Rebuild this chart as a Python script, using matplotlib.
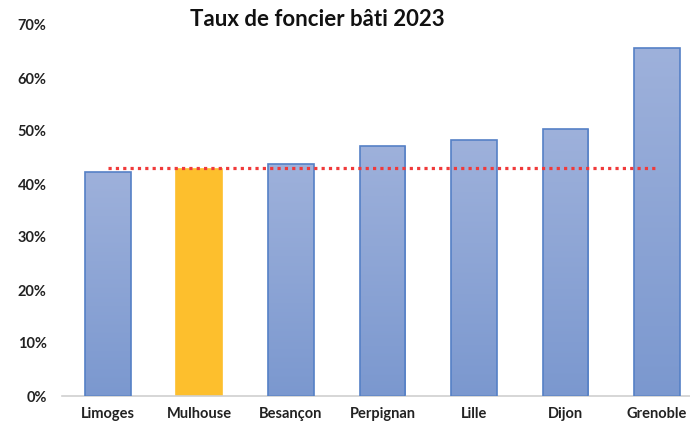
import numpy as np
import matplotlib
matplotlib.use("Agg")
import matplotlib.pyplot as plt
from matplotlib.colors import LinearSegmentedColormap

# data
villes = ["Limoges", "Mulhouse", "Besançon", "Perpignan", "Lille", "Dijon", "Grenoble"]
taux = [0.423, 0.428, 0.438, 0.472, 0.483, 0.504, 0.657]
moyenne = 0.430
y_ticks = [0, 0.1, 0.2, 0.3, 0.4, 0.5, 0.6, 0.7]

plt.rcParams["font.family"] = ["Lato", "DejaVu Sans"]

fig = plt.figure(figsize=(6.9, 4.24), dpi=100)
ax = fig.add_axes([62 / 690, 28 / 424, 1 - 62 / 690, (396 - 25) / 424])

x = np.arange(len(villes))
couleurs = ["#8EA6D8"] * len(villes)
couleurs[1] = "#FDBF2D"
bords = ["#5580C6"] * len(villes)
bords[1] = "#FDBF2D"

bars = ax.bar(x, taux, width=0.5, color=couleurs, edgecolor=bords, linewidth=1.2, zorder=2)

# gradient on blue bars
cmap = LinearSegmentedColormap.from_list("g", ["#7B98CF", "#9EB1DB"])
grad = np.linspace(0, 1, 256).reshape(-1, 1)
for i, b in enumerate(bars):
    if i == 1:
        continue
    bx, by = b.get_x(), b.get_y()
    w, h = b.get_width(), b.get_height()
    im = ax.imshow(grad, cmap=cmap, aspect="auto", origin="lower",
                   extent=[bx, bx + w, by, by + h], zorder=2.5)
    im.set_clip_path(b)
    b.set_facecolor("none")
    b.set_zorder(3)

# average line
ax.plot([0, len(villes) - 1], [moyenne, moyenne], linestyle=(0, (1, 1.3)),
        color="#F03A3A", linewidth=2.3, zorder=4)

# chart is cropped on the right side in the original
ax.set_xlim(-0.5, 6.36)
ax.set_ylim(0, 0.7)
ax.set_yticks(y_ticks)
ax.set_yticklabels([f"{int(round(t * 100))}%" for t in y_ticks],
                   fontsize=10.5, fontweight="bold", color="#222222")
ax.set_xticks(x)
ax.set_xticklabels(villes, fontsize=10.5, fontweight="bold", color="#222222")
ax.tick_params(axis="y", length=0, pad=11)
ax.tick_params(axis="x", length=0, pad=8)

for s in ["top", "right", "left"]:
    ax.spines[s].set_visible(False)
ax.spines["bottom"].set_color("#D0D0D0")
ax.spines["bottom"].set_linewidth(1.2)

fig.text(317 / 690, 1 - 19 / 424, "Taux de foncier bâti 2023", ha="center", va="center",
         fontsize=16, fontweight="bold", color="#111111")

fig.savefig("out.png", dpi=100)
